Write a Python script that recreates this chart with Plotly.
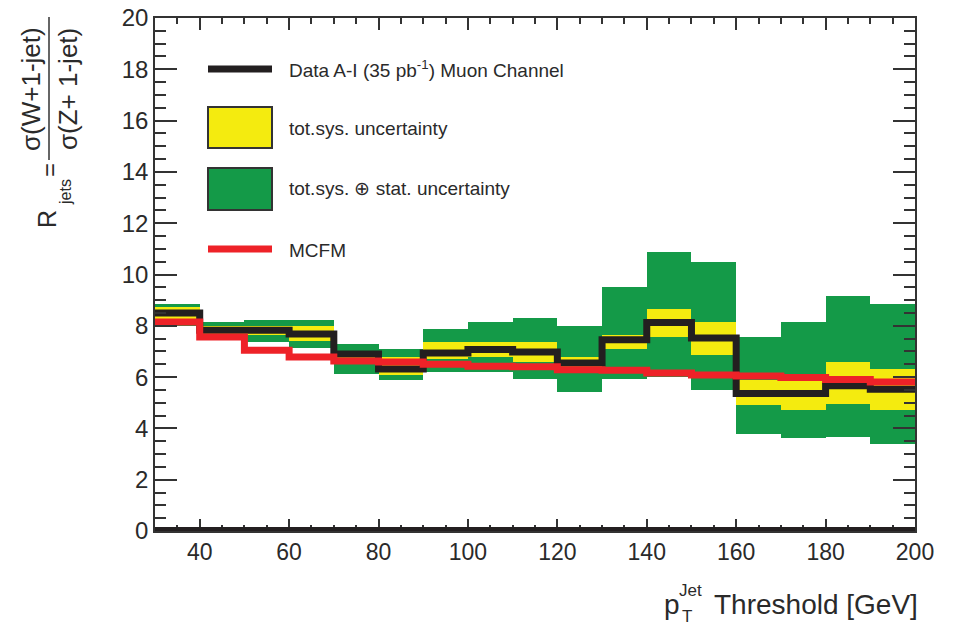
import plotly.graph_objects as go

# ---------------- data ----------------
bin_edges = [30, 40, 50, 60, 70, 80, 90, 100, 110, 120, 130, 140, 150, 160, 170, 180, 190, 200]
data_ratio = [8.5, 7.83, 7.83, 7.68, 6.9, 6.32, 6.94, 7.08, 6.98, 6.55, 7.46, 8.13, 7.52, 5.36, 5.36, 5.66, 5.53]
mcfm_ratio = [8.15, 7.56, 7.05, 6.78, 6.63, 6.59, 6.5, 6.42, 6.4, 6.29, 6.27, 6.16, 6.08, 6.04, 5.98, 5.91, 5.81]
sys_low = [8.05, 7.65, 7.65, 7.4, 6.65, 6.1, 6.72, 6.77, 6.6, 6.3, 7.11, 7.57, 6.85, 4.9, 4.71, 4.97, 4.71]
sys_high = [8.75, 8.0, 8.0, 8.0, 7.0, 6.79, 7.37, 7.37, 7.37, 6.78, 7.63, 8.67, 8.15, 5.88, 5.88, 6.59, 6.33]
tot_low = [8.0, 7.55, 7.37, 7.14, 6.14, 5.88, 6.2, 6.2, 5.94, 5.42, 5.94, 6.0, 5.49, 3.78, 3.61, 3.67, 3.41]
tot_high = [8.85, 8.15, 8.24, 8.24, 7.3, 7.11, 7.89, 8.14, 8.31, 7.98, 9.51, 10.87, 10.48, 7.56, 8.14, 9.18, 8.86]
x_ticks = [40, 60, 80, 100, 120, 140, 160, 180, 200]
y_ticks = [0, 2, 4, 6, 8, 10, 12, 14, 16, 18, 20]

legend_labels = ["Data A-I (35 pb<sup>-1</sup>) Muon Channel", "tot.sys. uncertainty",
                 "tot.sys. \u2295 stat. uncertainty", "MCFM"]

# ---------------- styles ----------------
BLACK = "#231F20"
YELLOW = "#F4EB0F"
GREEN = "#149A48"
RED = "#EE2228"
TXT = "#2a2a2a"
FONT = "Liberation Sans, Arial, sans-serif"

W, H = 958, 627
L, R, T, B = 155, 915, 18, 531  # plot area in px

def px(p):
    return (p - L) / (R - L)

def py(q):
    return (B - q) / (B - T)

centers = [(a + b) / 2 for a, b in zip(bin_edges[:-1], bin_edges[1:])]
widths = [b - a for a, b in zip(bin_edges[:-1], bin_edges[1:])]

fig = go.Figure()

fig.add_trace(go.Bar(x=centers, base=tot_low, y=[h - l for h, l in zip(tot_high, tot_low)],
                     width=widths, marker=dict(color=GREEN, line=dict(width=0)),
                     showlegend=False, hoverinfo="skip"))
fig.add_trace(go.Bar(x=centers, base=sys_low, y=[h - l for h, l in zip(sys_high, sys_low)],
                     width=widths, marker=dict(color=YELLOW, line=dict(width=0)),
                     showlegend=False, hoverinfo="skip"))
fig.add_trace(go.Scatter(x=bin_edges, y=data_ratio + [data_ratio[-1]], mode="lines",
                         line=dict(color=BLACK, width=7, shape="hv"), showlegend=False))
fig.add_trace(go.Scatter(x=bin_edges, y=mcfm_ratio + [mcfm_ratio[-1]], mode="lines",
                         line=dict(color=RED, width=7, shape="hv"), showlegend=False))

shapes = []
annotations = []

# thick line along zero
shapes.append(dict(type="line", xref="paper", yref="y", x0=0, x1=1, y0=0, y1=0,
                   line=dict(color=BLACK, width=8)))

# ---------------- manual legend ----------------
lx0, lx1, ltx = 208, 272, 287
shapes.append(dict(type="line", xref="paper", yref="paper", x0=px(lx0), x1=px(lx1),
                   y0=py(69), y1=py(69), line=dict(color=BLACK, width=7)))
shapes.append(dict(type="rect", xref="paper", yref="paper", x0=px(lx0), x1=px(lx1),
                   y0=py(148), y1=py(107), fillcolor=YELLOW, line=dict(color="#333333", width=2)))
shapes.append(dict(type="rect", xref="paper", yref="paper", x0=px(lx0), x1=px(lx1),
                   y0=py(210), y1=py(168), fillcolor=GREEN, line=dict(color="#333333", width=2)))
shapes.append(dict(type="line", xref="paper", yref="paper", x0=px(lx0), x1=px(lx1),
                   y0=py(249), y1=py(249), line=dict(color=RED, width=7)))
for lab, yc in zip(legend_labels, [69, 128, 188, 250]):
    annotations.append(dict(text=lab, xref="paper", yref="paper", x=px(ltx), y=py(yc),
                            xanchor="left", yanchor="middle", showarrow=False,
                            font=dict(family=FONT, size=19, color=TXT)))

# ---------------- y-axis title (fraction) ----------------
def rot(text, xc, yc, size):
    annotations.append(dict(text=text, xref="paper", yref="paper", x=px(xc), y=py(yc),
                            xanchor="center", yanchor="middle", textangle=-90, showarrow=False,
                            font=dict(family=FONT, size=size, color=TXT)))

rot("\u03c3(W+1-jet)", 31, 89, 26)
rot("\u03c3(Z+ 1-jet)", 68, 89, 26)
rot("=", 49, 170, 24)
rot("jets", 65, 192, 16)
rot("R", 47, 219, 25)
shapes.append(dict(type="line", xref="paper", yref="paper", x0=px(49), x1=px(49),
                   y0=py(160), y1=py(17), line=dict(color="#333333", width=1.5)))

# ---------------- x-axis title ----------------
def txt(text, xa, ya, xanchor, size):
    annotations.append(dict(text=text, xref="paper", yref="paper", x=px(xa), y=py(ya),
                            xanchor=xanchor, yanchor="middle", showarrow=False,
                            font=dict(family=FONT, size=size, color=TXT)))

txt("Threshold [GeV]", 920, 604, "right", 28)
txt("p", 682, 604, "right", 28)
txt("Jet", 677, 590, "left", 17)
txt("T", 687, 617, "center", 17)

fig.update_layout(
    width=W, height=H,
    margin=dict(l=L, r=W - R, t=T, b=H - B, autoexpand=False),
    plot_bgcolor="white", paper_bgcolor="white",
    barmode="overlay", bargap=0,
    showlegend=False,
    shapes=shapes, annotations=annotations,
    xaxis=dict(range=[30, 200], tickvals=x_ticks, ticktext=[str(v) for v in x_ticks],
               ticks="inside", ticklen=12, tickwidth=1.5, tickcolor="#333333",
               minor=dict(dtick=5, tick0=30, ticks="inside", ticklen=6, tickwidth=1.5, tickcolor="#333333"),
               showline=True, linecolor="#333333", linewidth=1.5, mirror="allticks",
               showgrid=False, zeroline=False, automargin=False,
               tickfont=dict(family=FONT, size=23, color=TXT)),
    yaxis=dict(range=[0, 20], tickvals=y_ticks, ticktext=[str(v) for v in y_ticks],
               ticks="inside", ticklen=22, tickwidth=1.5, tickcolor="#333333",
               minor=dict(dtick=0.5, tick0=0, ticks="inside", ticklen=11, tickwidth=1.5, tickcolor="#333333"),
               showline=True, linecolor="#333333", linewidth=1.5, mirror="allticks",
               showgrid=False, zeroline=False, automargin=False,
               tickfont=dict(family=FONT, size=24, color=TXT)),
)

fig.write_html("out.html")
